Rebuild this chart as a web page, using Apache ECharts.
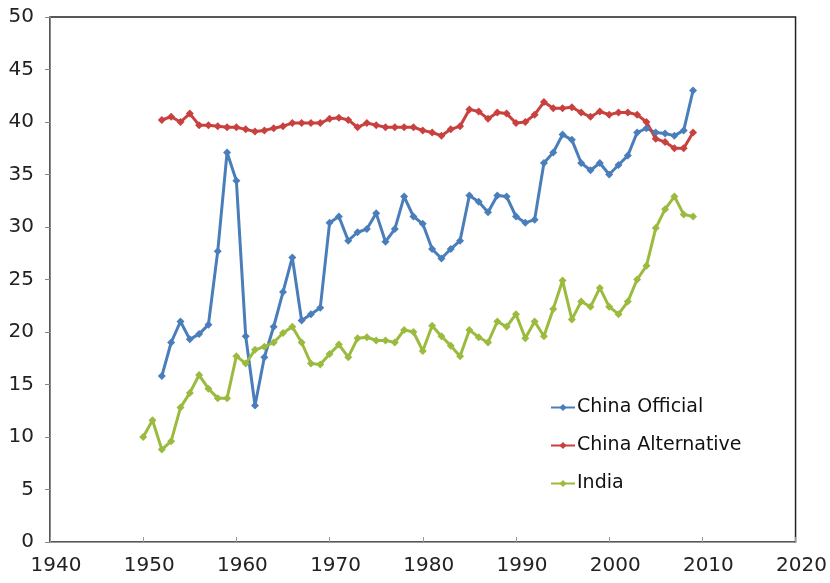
<!DOCTYPE html>
<html>
<head>
<meta charset="utf-8">
<script src="https://cdn.jsdelivr.net/npm/echarts@6/dist/echarts.min.js"></script>
<style>
  html, body { margin: 0; padding: 0; background: #fff; }
  #main { width: 830px; height: 583px; }
</style>
</head>
<body>
<div id="main"></div>
<script>
var years = [];
for (var y = 1950; y <= 2009; y++) years.push(y);

// values
var chinaOfficial = [
  null, null,
  15.8, 19.0, 21.0, 19.3, 19.8, 20.7, 27.7, 37.1,
  34.4, 19.6, 13.0, 17.6, 20.5, 23.8, 27.1, 21.1, 21.7, 22.3,
  30.4, 31.0, 28.7, 29.5, 29.8, 31.3, 28.6, 29.8, 32.9, 31.0,
  30.3, 27.9, 27.0, 27.9, 28.7, 33.0, 32.4, 31.4, 33.0, 32.9,
  31.0, 30.4, 30.7, 36.1, 37.1, 38.8, 38.3, 36.1, 35.4, 36.1,
  35.0, 35.9, 36.8, 39.0, 39.4, 39.0, 38.9, 38.7, 39.2, 43.0
];
var chinaAlternative = [
  null, null,
  40.2, 40.5, 40.0, 40.8, 39.7, 39.7, 39.6, 39.5,
  39.5, 39.3, 39.1, 39.2, 39.4, 39.6, 39.9, 39.9, 39.9, 39.9,
  40.3, 40.4, 40.2, 39.5, 39.9, 39.7, 39.5, 39.5, 39.5, 39.5,
  39.2, 39.0, 38.7, 39.3, 39.6, 41.2, 41.0, 40.3, 40.9, 40.8,
  39.9, 40.0, 40.7, 41.9, 41.3, 41.3, 41.4, 40.9, 40.5, 41.0,
  40.7, 40.9, 40.9, 40.7, 40.0, 38.4, 38.1, 37.5, 37.5, 39.0
];
var india = [
  10.0, 11.6, 8.8, 9.6, 12.8, 14.2, 15.9, 14.6, 13.7, 13.7,
  17.7, 17.0, 18.3, 18.6, 19.0, 19.9, 20.5, 19.0, 17.0, 16.9,
  17.9, 18.8, 17.6, 19.4, 19.5, 19.2, 19.2, 19.0, 20.2, 20.0,
  18.2, 20.6, 19.6, 18.7, 17.7, 20.2, 19.5, 19.0, 21.0, 20.5,
  21.7, 19.4, 21.0, 19.6, 22.2, 24.9, 21.2, 22.9, 22.4, 24.2,
  22.4, 21.7, 22.9, 25.0, 26.3, 29.9, 31.7, 32.9, 31.2, 31.0
];

function pairs(arr) {
  var out = [];
  for (var i = 0; i < years.length; i++) {
    if (arr[i] != null) out.push([years[i], arr[i]]);
  }
  return out;
}

function makeSeries(name, arr, color) {
  return {
    name: name,
    type: 'line',
    data: pairs(arr),
    symbol: 'diamond',
    symbolSize: 8,
    lineStyle: { width: 3, color: color },
    itemStyle: { color: color },
    emphasis: { disabled: true }
  };
}

var chart = echarts.init(document.getElementById('main'));
var option = {
  backgroundColor: '#fff',
  animation: false,
  textStyle: { fontFamily: 'DejaVu Sans' },
  grid: {
    left: 50, right: 34, top: 17, bottom: 41,
    show: true, borderColor: '#222', borderWidth: 1.5, backgroundColor: 'transparent'
  },
  legend: {
    orient: 'vertical',
    left: 545, top: 393,
    itemWidth: 24, itemHeight: 9, itemGap: 19,
    lineStyle: { width: 2 },
    textStyle: { fontSize: 19, color: '#111', fontFamily: 'DejaVu Sans', padding: [0, 0, 0, -3] },
    data: ['China Official', 'China Alternative', 'India']
  },
  xAxis: {
    type: 'value', min: 1940, max: 2020, interval: 10,
    axisLine: { lineStyle: { color: '#999', width: 1 } },
    axisTick: { inside: true, length: 5, lineStyle: { color: '#999' } },
    axisLabel: {
      fontSize: 20, color: '#222', margin: 14, padding: [0, 0, 0, 12],
      formatter: function (v) { return String(v); }
    },
    splitLine: { show: false }
  },
  yAxis: {
    type: 'value', min: 0, max: 50, interval: 5,
    axisLine: { show: true, lineStyle: { color: '#888', width: 1 } },
    axisTick: { show: true, length: 5, lineStyle: { color: '#888' } },
    axisLabel: { fontSize: 20, color: '#222', margin: 16 },
    splitLine: { show: false }
  },
  series: [
    makeSeries('China Official', chinaOfficial, '#4a7ebb'),
    makeSeries('China Alternative', chinaAlternative, '#c8413e'),
    makeSeries('India', india, '#9bbb3f')
  ]
};
chart.setOption(option);
window.onresize = function () { chart.resize(); };
</script>
</body>
</html>
